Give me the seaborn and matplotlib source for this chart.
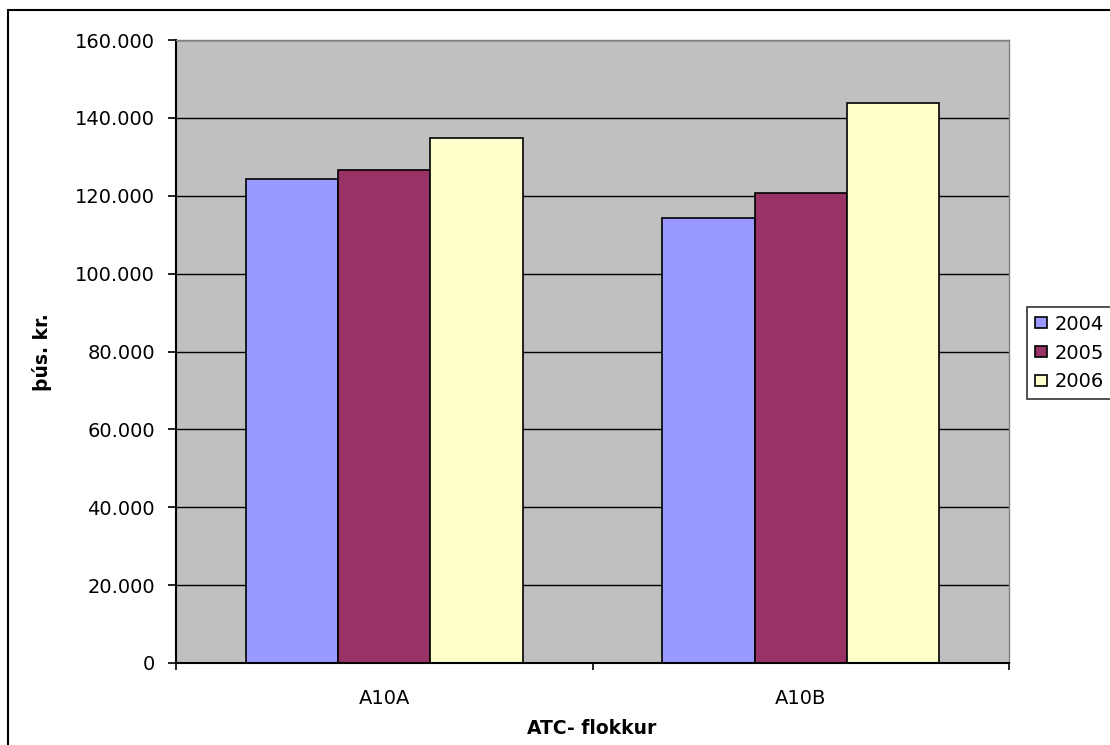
import matplotlib

matplotlib.use("Agg")
import matplotlib.pyplot as plt
import matplotlib.ticker as mticker
from matplotlib.lines import Line2D
import pandas as pd
import seaborn as sns

# ---------------------------------------------------------------------------
# Data (þús. kr.)
# ---------------------------------------------------------------------------
categories = ["A10A", "A10B"]
years = ["2004", "2005", "2006"]
values_2004 = [124300, 114300]
values_2005 = [126600, 120800]
values_2006 = [134900, 143700]
yticks = [0, 20000, 40000, 60000, 80000, 100000, 120000, 140000, 160000]

colors = {"2004": "#9999FF", "2005": "#993366", "2006": "#FFFFCC"}

rows = []
for year, vals in zip(years, [values_2004, values_2005, values_2006]):
    for cat, v in zip(categories, vals):
        rows.append({"flokkur": cat, "ar": year, "kr": v})
df = pd.DataFrame(rows)

sns.set_style("white")
plt.rcParams["font.family"] = ["DejaVu Sans"]
plt.rcParams["text.color"] = "black"
plt.rcParams["xtick.color"] = "black"
plt.rcParams["ytick.color"] = "black"
plt.rcParams["axes.labelcolor"] = "black"

W, H = 1110, 745
fig = plt.figure(figsize=(W / 100, H / 100), dpi=100)
# plot area in pixels: x 176..1009, y 40..663
ax = fig.add_axes([176 / W, 1 - 663 / H, (1009 - 176) / W, (663 - 40) / H])
ax.set_facecolor("#C0C0C0")

sns.barplot(
    data=df, x="flokkur", y="kr", hue="ar", order=categories, hue_order=years,
    palette=colors, width=0.665, edgecolor="black", linewidth=1.2,
    saturation=1, errorbar=None, ax=ax,
)

ax.set_xlim(-0.5, 1.5)
ax.set_ylim(0, 160000)
ax.set_yticks(yticks)
ax.yaxis.set_major_formatter(
    mticker.FuncFormatter(lambda v, _: f"{int(v):,}".replace(",", "."))
)
ax.yaxis.grid(True, color="black", linewidth=1.0)
ax.set_axisbelow(True)

ax.tick_params(axis="y", direction="out", length=6, width=1.2, pad=9,
               labelsize=14, left=True, color="black", labelcolor="black")
ax.set_xticks([0, 1])
ax.set_xticks([-0.5, 0.5, 1.5], minor=True)
ax.tick_params(axis="x", which="major", length=0, pad=19, labelsize=14,
               labelcolor="black")
ax.tick_params(axis="x", which="minor", direction="out", length=5, width=1.2,
               bottom=True, color="black")

for side in ("top", "right"):
    ax.spines[side].set_color("#808080")
    ax.spines[side].set_linewidth(1.0)
for side in ("left", "bottom"):
    ax.spines[side].set_color("black")
    ax.spines[side].set_linewidth(1.5)

ax.set_xlabel("")
ax.set_ylabel("")
fig.text(42 / W, 1 - 352 / H, "þús. kr.", rotation=90, fontsize=13.5,
         fontweight="bold", ha="center", va="center", color="black")
fig.text(592 / W, 1 - 729 / H, "ATC- flokkur", fontsize=13.5,
         fontweight="bold", ha="center", va="center", color="black")

handles, labels = ax.get_legend_handles_labels()
ax.get_legend().remove()
leg = fig.legend(
    handles, labels, loc="upper left", bbox_to_anchor=(1027 / W, 1 - 307 / H),
    fontsize=14, frameon=True, fancybox=False, edgecolor="black",
    handlelength=0.62, handleheight=0.5, handletextpad=0.4,
    labelspacing=0.5, borderpad=0.4, borderaxespad=0,
)
leg.get_frame().set_linewidth(1.2)
for t in leg.get_texts():
    t.set_color("black")

# outer chart border (right and bottom edges fall outside the image)
fig.add_artist(Line2D([8 / W, 8 / W], [0, 1 - 10 / H], color="black",
                      linewidth=1.5, transform=fig.transFigure))
fig.add_artist(Line2D([8 / W, 1], [1 - 10 / H, 1 - 10 / H], color="black",
                      linewidth=1.5, transform=fig.transFigure))

fig.savefig("out.png", dpi=100)
plt.close(fig)
